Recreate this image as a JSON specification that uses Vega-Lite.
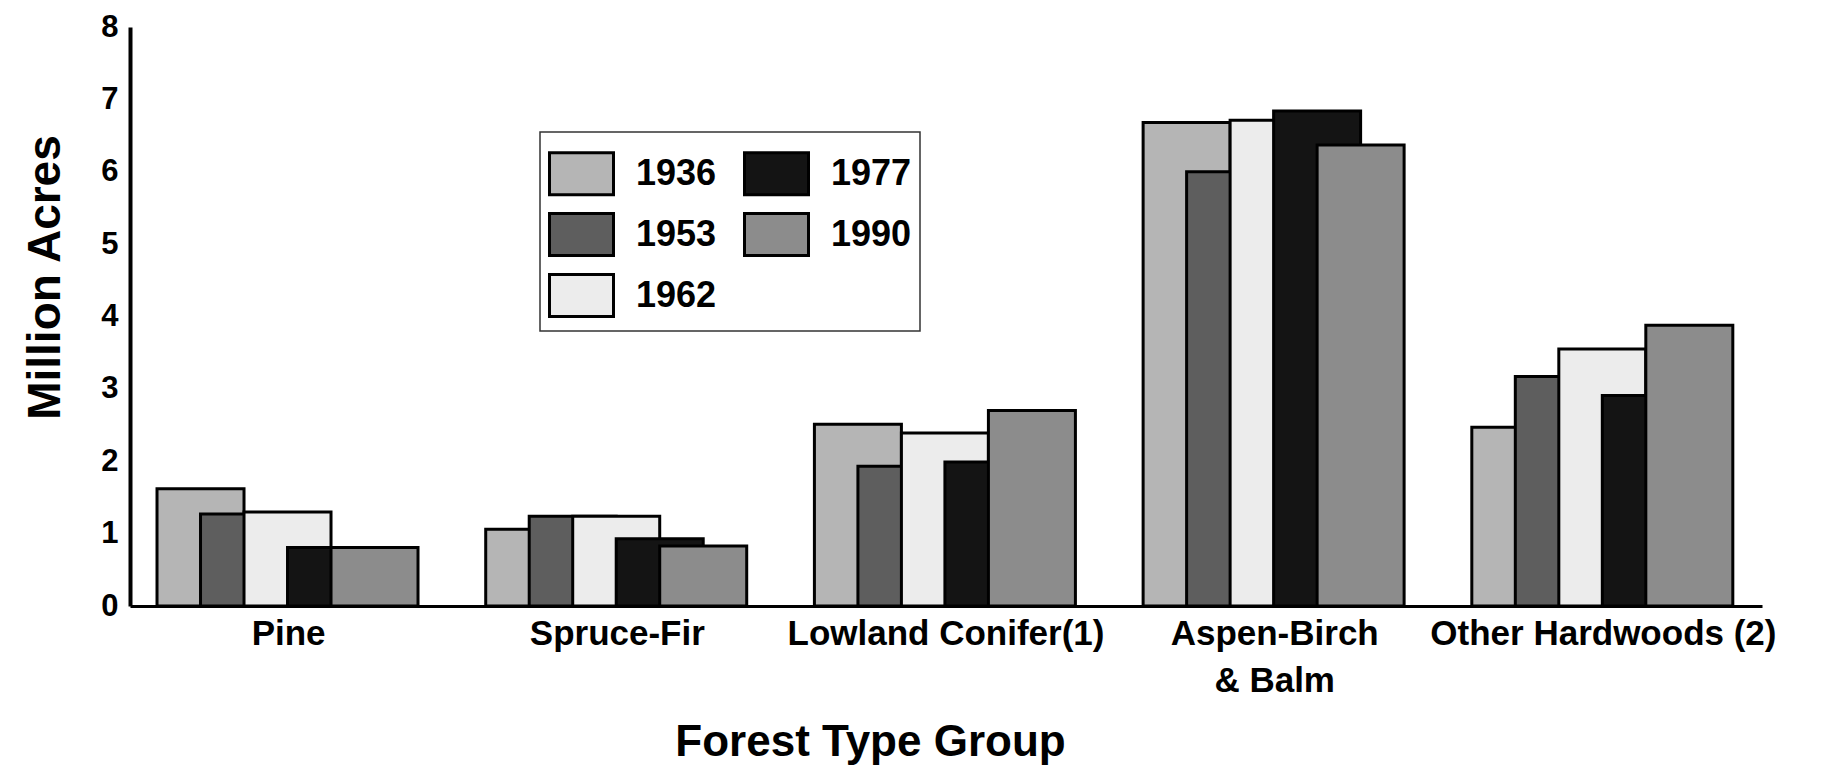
{
  "$schema": "https://vega.github.io/schema/vega-lite/v6.json",
  "width": 1632,
  "height": 579,
  "autosize": {"type": "none"},
  "padding": {"left": 130, "top": 27, "right": 62, "bottom": 163},
  "background": "white",
  "config": {"view": {"stroke": null}, "font": "Liberation Sans"},
  "data": {
    "values": [
      {"group": "Pine", "year": "1936", "acres": 1.62},
      {"group": "Pine", "year": "1953", "acres": 1.27},
      {"group": "Pine", "year": "1962", "acres": 1.30},
      {"group": "Pine", "year": "1977", "acres": 0.81},
      {"group": "Pine", "year": "1990", "acres": 0.81},
      {"group": "Spruce-Fir", "year": "1936", "acres": 1.06},
      {"group": "Spruce-Fir", "year": "1953", "acres": 1.24},
      {"group": "Spruce-Fir", "year": "1962", "acres": 1.24},
      {"group": "Spruce-Fir", "year": "1977", "acres": 0.93},
      {"group": "Spruce-Fir", "year": "1990", "acres": 0.83},
      {"group": "Lowland Conifer(1)", "year": "1936", "acres": 2.51},
      {"group": "Lowland Conifer(1)", "year": "1953", "acres": 1.93},
      {"group": "Lowland Conifer(1)", "year": "1962", "acres": 2.39},
      {"group": "Lowland Conifer(1)", "year": "1977", "acres": 1.99},
      {"group": "Lowland Conifer(1)", "year": "1990", "acres": 2.70},
      {"group": "Aspen-Birch & Balm", "year": "1936", "acres": 6.68},
      {"group": "Aspen-Birch & Balm", "year": "1953", "acres": 6.00},
      {"group": "Aspen-Birch & Balm", "year": "1962", "acres": 6.71},
      {"group": "Aspen-Birch & Balm", "year": "1977", "acres": 6.84},
      {"group": "Aspen-Birch & Balm", "year": "1990", "acres": 6.37},
      {"group": "Other Hardwoods (2)", "year": "1936", "acres": 2.47},
      {"group": "Other Hardwoods (2)", "year": "1953", "acres": 3.17},
      {"group": "Other Hardwoods (2)", "year": "1962", "acres": 3.55},
      {"group": "Other Hardwoods (2)", "year": "1977", "acres": 2.91},
      {"group": "Other Hardwoods (2)", "year": "1990", "acres": 3.88}
    ]
  },
  "mark": {"type": "bar", "width": {"band": 2}, "stroke": "black", "strokeWidth": 3, "strokeJoin": "miter"},
  "encoding": {
    "x": {
      "field": "group",
      "type": "nominal",
      "sort": null,
      "scale": {"paddingInner": 0.335, "paddingOuter": 0.15},
      "axis": {
        "title": "Forest Type Group",
        "labelAngle": 0,
        "ticks": false,
        "domainColor": "black",
        "domainWidth": 3,
        "labelFont": "Liberation Sans",
        "labelFontSize": 35,
        "labelFontWeight": "bold",
        "labelColor": "black",
        "labelPadding": 10,
        "labelLineHeight": 47,
        "labelLimit": 600,
        "labelOverlap": false,
        "labelExpr": "datum.value == 'Aspen-Birch & Balm' ? ['Aspen-Birch', '& Balm'] : datum.value",
        "encode": {
          "labels": {
            "update": {
              "align": {"signal": "datum.value == 'Aspen-Birch & Balm' ? 'right' : 'center'"},
              "dx": {"signal": "datum.value == 'Aspen-Birch & Balm' ? 111 : 22"}
            }
          }
        },
        "titleFont": "Liberation Sans",
        "titleFontSize": 44,
        "titleFontWeight": "bold",
        "titleColor": "black",
        "titleX": 740,
        "titleY": 136,
        "titleAlign": "center",
        "titleBaseline": "middle"
      }
    },
    "xOffset": {
      "field": "year",
      "type": "nominal",
      "sort": null,
      "scale": {"paddingInner": 0, "paddingOuter": 0, "range": [87, 304.5]}
    },
    "y": {
      "field": "acres",
      "type": "quantitative",
      "scale": {"domain": [0, 8], "nice": false},
      "axis": {
        "title": "Million Acres",
        "values": [0, 1, 2, 3, 4, 5, 6, 7, 8],
        "grid": false,
        "ticks": false,
        "domainColor": "black",
        "domainWidth": 4,
        "labelFont": "Liberation Sans",
        "labelFontSize": 31,
        "labelFontWeight": "bold",
        "labelColor": "black",
        "labelPadding": 12,
        "titleFont": "Liberation Sans",
        "titleFontSize": 46,
        "titleFontWeight": "bold",
        "titleColor": "black",
        "titleAngle": -90,
        "titleX": -85,
        "titleY": 250,
        "titleAlign": "center",
        "titleBaseline": "middle"
      }
    },
    "color": {
      "field": "year",
      "type": "nominal",
      "scale": {
        "domain": ["1936", "1953", "1962", "1977", "1990"],
        "range": ["#b5b5b5", "#5e5e5e", "#ececec", "#141414", "#8c8c8c"]
      },
      "legend": {
        "orient": "none",
        "legendX": 410,
        "legendY": 105,
        "columns": 2,
        "title": null,
        "symbolType": "M-1,-0.656H1V0.656H-1Z",
        "symbolSize": 4096,
        "symbolStrokeColor": "black",
        "symbolStrokeWidth": 3,
        "symbolOpacity": 1,
        "labelFont": "Liberation Sans",
        "labelFontSize": 36,
        "labelFontWeight": "bold",
        "labelColor": "black",
        "labelOffset": 21,
        "labelLimit": 300,
        "columnPadding": 21,
        "rowPadding": -1,
        "padding": 8,
        "strokeColor": "#333333",
        "fillColor": "white",
        "encode": {
          "legend": {"update": {"strokeWidth": {"value": 1.5}}}
        }
      }
    }
  }
}
